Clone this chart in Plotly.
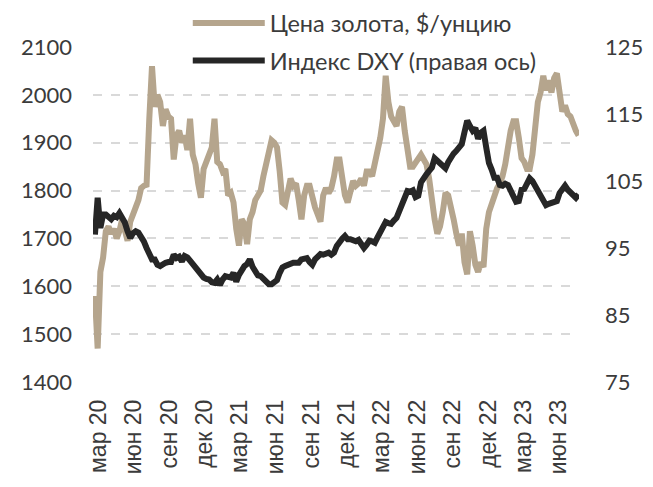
import pandas as pd
import plotly.graph_objects as go

start_date = "2020-03-07"

gold = [
    1580, 1470, 1630, 1660, 1715, 1725, 1710, 1720, 1700, 1715,
    1740, 1720, 1695, 1735, 1755, 1765, 1780, 1805, 1810, 1812,
    1950, 2060, 1975, 2000, 1985, 1935, 1970, 1955, 1950, 1865,
    1915, 1925, 1900, 1915, 1885, 1950, 1875, 1855, 1815, 1785,
    1845, 1860, 1875, 1890, 1950, 1860, 1855, 1840, 1845, 1790,
    1795, 1775, 1720, 1685, 1740, 1730, 1688, 1740, 1755, 1780,
    1790, 1800, 1830, 1860, 1880, 1905, 1900, 1890, 1840, 1775,
    1770, 1805, 1825, 1810, 1815, 1780, 1740, 1790, 1810, 1810,
    1785, 1765, 1750, 1735, 1790, 1805, 1795, 1805, 1830, 1865,
    1865, 1830, 1790, 1775, 1805, 1820, 1810, 1815, 1825, 1810,
    1840, 1840, 1830, 1855, 1885, 1910, 1950, 2040, 1985, 1955,
    1945, 1935, 1965, 1975, 1925, 1880, 1850, 1850, 1860, 1865,
    1875, 1865, 1855, 1825, 1770, 1740, 1710, 1725, 1755, 1795,
    1790, 1770, 1740, 1710, 1685, 1710, 1650, 1625, 1715, 1685,
    1645, 1630, 1650, 1640, 1720, 1755, 1775, 1785, 1805, 1815,
    1830, 1855, 1900, 1925, 1945, 1945, 1910, 1868, 1860, 1845,
    1845, 1875, 1930, 1985, 2005, 2040, 2010, 2030, 2005, 2035,
    2045, 1995, 1965, 1978, 1960, 1955, 1935, 1925, 1915,
]

dxy = [
    97.0, 102.5, 98.0, 100.0, 100.0, 99.5, 99.3, 99.8, 99.6, 100.2,
    99.5, 98.8, 97.5, 96.5, 97.2, 97.5, 97.3, 96.8, 96.0, 95.0,
    93.8, 93.3, 93.3, 92.5, 92.3, 92.6, 92.8, 92.9, 92.9, 94.0,
    93.5, 93.7, 93.0, 93.8, 93.6, 93.1, 92.6, 92.0, 91.4, 91.0,
    90.6, 90.4, 90.3, 89.9, 89.8, 90.3, 89.5, 90.3, 90.8, 90.7,
    90.6, 91.3, 90.0, 91.0, 91.9, 92.3, 92.6, 93.3, 92.2, 91.3,
    90.9, 90.8, 90.4, 90.0, 89.6, 89.6, 90.0, 90.2, 91.3, 92.1,
    92.3, 92.5, 92.6, 92.8, 92.8, 92.8, 93.3, 93.5, 93.5, 92.9,
    92.5, 93.3, 93.7, 94.1, 94.0, 94.1, 94.3, 94.0, 94.3, 95.3,
    96.0, 96.4, 96.8, 96.3, 96.3, 96.2, 96.0, 96.2, 95.4, 95.0,
    95.5, 96.1, 96.0, 95.8, 96.6, 97.4, 98.3, 98.9, 98.7, 98.6,
    99.1, 99.5, 100.5, 101.4, 102.6, 103.5, 103.4, 103.6, 102.6, 102.8,
    104.8, 105.6, 106.0, 106.5, 107.0, 108.4, 108.0, 107.5, 107.1, 106.9,
    107.8, 108.6, 109.1, 109.5, 110.0, 110.5, 112.3, 114.0, 113.2, 112.5,
    112.9, 111.3, 112.2, 112.5, 110.0, 107.7, 106.7, 105.5, 105.5, 104.4,
    104.3, 104.6, 104.4, 103.6, 102.8, 101.9, 102.0, 103.7, 103.8, 104.4,
    105.4, 105.0, 104.3, 103.5, 102.6, 101.8, 101.4, 101.6, 101.8, 101.8,
    102.0, 103.2, 103.9, 104.3, 103.7, 103.2, 102.8, 102.5, 103.0,
]

tick_dates = ["2020-03-15", "2020-06-15", "2020-09-15", "2020-12-15",
              "2021-03-15", "2021-06-15", "2021-09-15", "2021-12-15",
              "2022-03-15", "2022-06-15", "2022-09-15", "2022-12-15",
              "2023-03-15", "2023-06-15"]
tick_labels = ["мар 20", "июн 20", "сен 20", "дек 20",
               "мар 21", "июн 21", "сен 21", "дек 21",
               "мар 22", "июн 22", "сен 22", "дек 22",
               "мар 23", "июн 23"]

left_ticks = [1400, 1500, 1600, 1700, 1800, 1900, 2000, 2100]
right_ticks = [75, 85, 95, 105, 115, 125]

dates = pd.date_range(start_date, periods=len(gold), freq="7D")

TXT = "#3b3b3b"
fig = go.Figure()
fig.add_trace(go.Scatter(
    x=dates, y=gold, mode="lines", name="Цена золота, $/унцию",
    line=dict(color="#b5a58d", width=6), legendgroup="g1",
))
fig.add_trace(go.Scatter(
    x=dates, y=dxy, mode="lines", name="Индекс DXY (правая ось)",
    line=dict(color="#262626", width=6), yaxis="y2", legendgroup="g2",
))

fig.update_layout(
    width=653, height=487,
    margin=dict(l=93, r=74, t=47, b=105, autoexpand=False),
    plot_bgcolor="white", paper_bgcolor="white",
    font=dict(family="Lato, Open Sans, sans-serif", size=22, color=TXT),
    showlegend=True,
    legend=dict(
        x=0.195, y=1.137, xanchor="left", yanchor="top",
        bgcolor="rgba(0,0,0,0)", itemwidth=72, tracegroupgap=4,
        font=dict(family="Lato, Open Sans, sans-serif", size=23.5, color=TXT),
    ),
    xaxis=dict(
        type="date",
        range=["2020-03-02", "2023-08-06"],
        tickmode="array", tickvals=tick_dates, ticktext=tick_labels,
        tickangle=-90, showgrid=False, zeroline=False, showline=False,
        ticks="", ticklabelstandoff=12,
        tickfont=dict(family="Liberation Sans, Arial, sans-serif", size=23, color=TXT),
    ),
    yaxis=dict(
        range=[1400, 2100], tickmode="array", tickvals=left_ticks,
        showgrid=True, gridcolor="#d9d9d9", griddash="dash", gridwidth=1.5,
        zeroline=False, showline=False, ticks="", ticklabelstandoff=20,
    ),
    yaxis2=dict(
        range=[75, 125], tickmode="array", tickvals=right_ticks,
        overlaying="y", side="right", showgrid=False, zeroline=False,
        showline=False, ticks="", ticklabelstandoff=25,
    ),
)

fig.write_html("out.html")
